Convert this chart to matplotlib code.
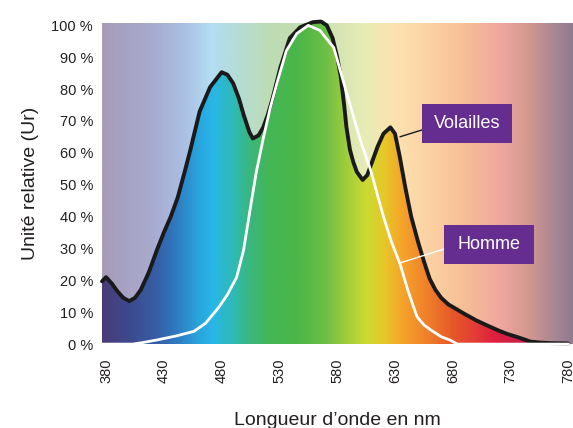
import numpy as np
import matplotlib
matplotlib.use("Agg")
import matplotlib.pyplot as plt
from matplotlib.colors import LinearSegmentedColormap
from matplotlib.patches import Rectangle
from matplotlib.lines import Line2D

plt.rcParams['font.family'] = ['Liberation Sans', 'DejaVu Sans']

# donnees (longueur d'onde en nm, unite relative en %)
volailles_nm = [376.5, 380, 385, 390, 395, 400, 405, 410, 417, 424, 430, 436, 442, 448, 453,
                461, 470, 480, 485, 490, 495, 499, 504, 507, 512, 516, 520, 524, 531, 539,
                548, 559, 566, 571, 576, 580, 583, 586, 588, 591, 594, 597, 602, 606, 610,
                615, 620, 626, 630, 634, 639, 644, 650, 655, 660, 665, 670, 676, 683, 690,
                700, 710, 720, 727, 735, 740, 747, 755, 765, 780]
volailles_val = [19.7, 21, 19, 16.5, 14.5, 13.5, 14.5, 17, 22.5, 29.5, 35, 40, 46, 54, 61,
                 73, 80.6, 85.3, 84.5, 81.8, 77, 72, 66.5, 64.5, 65.5, 68, 72, 77, 87, 96,
                 99.4, 101, 101.2, 100, 96, 90, 84, 75, 68, 61, 57, 54, 51.5, 53, 57,
                 62, 66, 68, 66, 59, 49, 40, 32, 26, 20.5, 17, 14.5, 12.5, 11, 9.5,
                 7.5, 5.8, 4.2, 3.2, 2.3, 1.7, 0.8, 0.5, 0.3, 0.2]

homme_nm = [376.5, 403, 412, 424, 440, 456, 466, 477, 485, 493, 499, 505, 510, 516, 522,
            528, 536, 545, 555, 565, 577, 588, 600, 609, 620, 627, 634.5, 641, 649, 655,
            661, 670, 678, 684, 780]
homme_val = [0, 0, 0.5, 1.3, 2.5, 4, 6.5, 11.3, 15.5, 21, 29.5, 43, 54, 64.5, 74,
             82, 92, 97.4, 100, 98.4, 93, 79, 64, 54.5, 40, 32, 25, 17, 8.6, 6,
             4.4, 2.3, 1.2, 0, 0]

x_ticks = [380, 430, 480, 530, 580, 630, 680, 730, 780]
y_ticks = [0, 10, 20, 30, 40, 50, 60, 70, 80, 90, 100]

# couleurs du spectre (fond pale et remplissage sature)
x_min, x_max = 376.5, 784
fond = [(376.5, '#a59bb8'), (420, '#a9abd0'), (445, '#aabde2'), (470, '#b3ddf3'),
        (490, '#b4ddda'), (520, '#bddcb5'), (545, '#c2ddb0'), (580, '#d5e5b3'),
        (605, '#e8ecb5'), (630, '#fde2b0'), (655, '#fcd4a5'), (690, '#f7be95'),
        (720, '#f0a8a0'), (745, '#d4988f'), (770, '#a48594'), (784, '#8f7a90')]
spectre = [(376.5, '#4a3b78'), (400, '#3d4a8f'), (425, '#3560a8'), (440, '#2f7bc0'),
           (460, '#29a6de'), (472, '#28b6e8'), (490, '#2fbab5'), (505, '#3bb77a'),
           (520, '#44b656'), (545, '#4ab648'), (570, '#6dbf44'), (590, '#a6d03a'),
           (605, '#cadb31'), (620, '#e6c829'), (635, '#f5a62a'), (655, '#f1842b'),
           (680, '#e6582a'), (700, '#e23b36'), (715, '#e0203f'), (740, '#c81e4a'),
           (784, '#8a1e4a')]


def make_cmap(stops, name):
    return LinearSegmentedColormap.from_list(
        name, [((nm - x_min) / (x_max - x_min), c) for nm, c in stops])


def main():
    fig = plt.figure(figsize=(5.73, 4.28), dpi=100)
    ax = fig.add_axes([0.178, 0.196, 0.822, 0.75])
    y_top = 100.7
    grad = np.linspace(0, 1, 1024)[None, :]

    ax.imshow(grad, extent=[x_min, x_max, 0, y_top], aspect='auto',
              cmap=make_cmap(fond, 'fond'), zorder=0)
    im = ax.imshow(grad, extent=[x_min, x_max, 0, y_top], aspect='auto',
                   cmap=make_cmap(spectre, 'spectre'), zorder=1)
    poly = ax.fill_between(volailles_nm, volailles_val, 0, facecolor='none', edgecolor='none')
    im.set_clip_path(poly.get_paths()[0], transform=ax.transData)

    ax.plot(volailles_nm, volailles_val, color='#1a1a1a', lw=2.8,
            solid_joinstyle='round', solid_capstyle='round', zorder=3, clip_on=False)
    ax.plot(homme_nm, homme_val, color='white', lw=2.0,
            solid_joinstyle='round', zorder=4, clip_on=False)

    ax.set_xlim(x_min, x_max)
    ax.set_ylim(0, y_top)
    ax.set_xticks(x_ticks)
    ax.set_xticklabels([str(v) for v in x_ticks], rotation=90)
    ax.set_yticks(y_ticks)
    ax.set_yticklabels([str(v) + ' %' for v in y_ticks])
    ax.tick_params(axis='both', length=0, labelsize=10.5, labelcolor='#231f20')
    ax.tick_params(axis='y', pad=6.5)
    ax.tick_params(axis='x', pad=10)
    for s in ax.spines.values():
        s.set_visible(False)

    ax.set_xlabel('Longueur d\u2019onde en nm', fontsize=14, color='#231f20')
    ax.xaxis.set_label_coords(0.5, -0.237)
    ax.xaxis.label.set_va('center')
    ax.set_ylabel('Unit\u00e9 relative (Ur)', fontsize=14, color='#231f20')
    ax.yaxis.set_label_coords(-0.151, 0.5)
    ax.yaxis.label.set_va('center')

    # etiquettes
    violet = '#662d91'
    ax.add_line(Line2D([0.633, 0.679], [0.646, 0.667], transform=ax.transAxes,
                       color='#1a1a1a', lw=1.0, zorder=5))
    ax.add_line(Line2D([0.633, 0.726], [0.253, 0.296], transform=ax.transAxes,
                       color='white', lw=1.0, zorder=5))
    ax.add_patch(Rectangle((0.679, 0.626), 0.191, 0.1215, transform=ax.transAxes,
                           facecolor=violet, edgecolor='none', zorder=6))
    ax.add_patch(Rectangle((0.726, 0.249), 0.191, 0.1215, transform=ax.transAxes,
                           facecolor=violet, edgecolor='none', zorder=6))
    ax.text(0.679 + 0.0955, 0.626 + 0.061, 'Volailles', transform=ax.transAxes,
            ha='center', va='center', color='white', fontsize=13, zorder=7)
    ax.text(0.726 + 0.0955, 0.249 + 0.061, 'Homme', transform=ax.transAxes,
            ha='center', va='center', color='white', fontsize=13, zorder=7)

    fig.savefig('out.png', dpi=100)


if __name__ == '__main__':
    main()
